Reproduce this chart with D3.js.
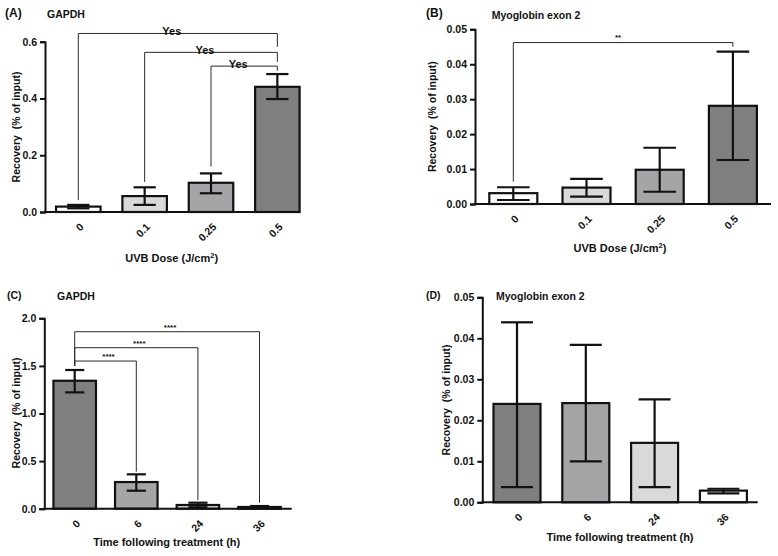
<!DOCTYPE html>
<html><head><meta charset="utf-8">
<script src="https://cdn.jsdelivr.net/npm/d3@7"></script>
<style>
body{margin:0;background:#fff;}
text{font-family:"Liberation Sans",Arial,sans-serif;font-weight:bold;fill:#111;}
</style></head>
<body>
<svg id="chart" width="778" height="556"></svg>
<script>
// ---------- data ----------
const doseCats = ["0", "0.1", "0.25", "0.5"];
const timeCats = ["0", "6", "24", "36"];

const gapdhDoseMean = [0.019, 0.056, 0.103, 0.441];
const gapdhDoseLow  = [0.013, 0.025, 0.066, 0.398];
const gapdhDoseHigh = [0.025, 0.087, 0.136, 0.486];
const gapdhDoseTicks = [0, 0.2, 0.4, 0.6];
const gapdhDoseSig = [ // [fromIdx, toIdx, level, leftEnd, rightEnd, label]
  [0, 3, 0.629, 0.042, 0.582, "Yes"],
  [1, 3, 0.5625, 0.106, 0.529, "Yes"],
  [2, 3, 0.514, 0.160, 0.498, "Yes"]
];

const myoDoseMean = [0.0031, 0.0047, 0.0098, 0.0281];
const myoDoseLow  = [0.00115, 0.0021, 0.0035, 0.0126];
const myoDoseHigh = [0.0048, 0.0072, 0.0161, 0.0436];
const myoDoseTicks = [0, 0.01, 0.02, 0.03, 0.04, 0.05];
const myoDoseSig = [
  [0, 3, 0.0462, 0.0064, 0.0450, "**"]
];

const gapdhTimeMean = [1.344, 0.280, 0.039, 0.018];
const gapdhTimeLow  = [1.222, 0.189, 0.015, 0.008];
const gapdhTimeHigh = [1.457, 0.361, 0.063, 0.028];
const gapdhTimeTicks = [0, 0.5, 1.0, 1.5, 2.0];
const gapdhTimeSig = [
  [0, 3, 1.859, 1.499, 0.063, "****"],
  [0, 2, 1.691, 1.499, 0.091, "****"],
  [0, 1, 1.551, 1.499, 0.389, "****"]
];

const myoTimeMean = [0.0240, 0.0242, 0.0145, 0.00285];
const myoTimeLow  = [0.0037, 0.0100, 0.0037, 0.0022];
const myoTimeHigh = [0.0439, 0.0384, 0.0251, 0.0033];
const myoTimeTicks = [0, 0.01, 0.02, 0.03, 0.04, 0.05];
const myoTimeSig = [];

const doseFills = ["#ffffff", "#d9d9d9", "#a5a5a8", "#7f7f7f"];
const timeFills = ["#7f7f7f", "#a5a5a8", "#d9d9d9", "#ffffff"];

// ---------- drawing ----------
const svg = d3.select("#chart");
const FONT = "'Liberation Sans',Arial,sans-serif";

function panel(o) {
  const g = svg.append("g");
  const y = d3.scaleLinear().domain([0, o.ticks[o.ticks.length - 1]]).range([o.y0, o.yTop]);
  const x = d3.scalePoint().domain(o.cats).range([o.c0, o.c0 + o.step * (o.cats.length - 1)]);

  // bars
  g.selectAll("rect.bar").data(o.mean).join("rect")
    .attr("x", (d, i) => x(o.cats[i]) - o.bw / 2)
    .attr("y", d => y(d))
    .attr("width", o.bw)
    .attr("height", d => o.y0 - y(d))
    .attr("fill", (d, i) => o.fills[i])
    .attr("stroke", "#111").attr("stroke-width", 2.2);

  // error bars
  const eb = g.selectAll("g.eb").data(o.mean).join("g");
  eb.append("line")
    .attr("x1", (d, i) => x(o.cats[i])).attr("x2", (d, i) => x(o.cats[i]))
    .attr("y1", (d, i) => y(o.low[i])).attr("y2", (d, i) => y(o.high[i]))
    .attr("stroke", "#111").attr("stroke-width", 2.2);
  ["low", "high"].forEach(k => {
    eb.append("line")
      .attr("x1", (d, i) => x(o.cats[i]) - o.bw * o.cap / 2)
      .attr("x2", (d, i) => x(o.cats[i]) + o.bw * o.cap / 2)
      .attr("y1", (d, i) => y(o[k][i])).attr("y2", (d, i) => y(o[k][i]))
      .attr("stroke", "#111").attr("stroke-width", 2.2);
  });

  // y axis
  const ya = g.append("g").attr("transform", `translate(${o.ax},0)`)
    .call(d3.axisLeft(y).tickValues(o.ticks).tickFormat(d3.format(o.fmt)).tickSize(5).tickPadding(3));
  ya.attr("font-family", FONT).attr("font-size", 10.5);
  ya.selectAll("path,line").attr("stroke", "#111").attr("stroke-width", 2);
  ya.selectAll("text").attr("fill", "#111");

  // x axis (rotated category labels)
  const xa = g.append("g").attr("transform", `translate(0,${o.y0})`)
    .call(d3.axisBottom(x).tickSize(0).tickPadding(0));
  xa.attr("font-family", FONT).attr("font-size", 10.5).attr("text-anchor", "end");
  xa.select(".domain").remove();
  xa.selectAll(".tick text")
    .attr("fill", "#111")
    .attr("x", 0).attr("y", 0).attr("dy", "0.35em")
    .attr("text-anchor", "end")
    .attr("transform", "translate(3,13) rotate(-45)");
  g.append("line").attr("x1", o.ax - 1).attr("x2", o.xEnd).attr("y1", o.y0).attr("y2", o.y0)
    .attr("stroke", "#111").attr("stroke-width", 2);

  // significance brackets
  o.sig.forEach(s => {
    const x1 = x(o.cats[s[0]]), x2 = x(o.cats[s[1]]), yl = y(s[2]);
    g.append("path")
      .attr("d", `M${x1},${y(s[3])}V${yl}H${x2}V${y(s[4])}`)
      .attr("fill", "none").attr("stroke", "#2a2a2a").attr("stroke-width", 1);
    g.append("text").attr("x", (x1 + x2) / 2 + o.sigDx).attr("y", yl + o.sigDy)
      .attr("text-anchor", "middle").style("font-size", o.sigSize + "px").text(s[5]);
  });

  // titles
  g.append("text").attr("x", o.lx).attr("y", o.ly).style("font-size", o.lSize + "px").text(o.letter);
  g.append("text").attr("x", o.tx).attr("y", o.ty).style("font-size", "10.5px").text(o.title);
  g.append("text").attr("transform", `translate(${o.yLx},${o.yLy}) rotate(-90)`)
    .attr("text-anchor", "middle").attr("dy", "0.35em").style("font-size", "10.5px")
    .style("white-space", "pre").text("Recovery  (% of input)");
  const xt = g.append("text").attr("x", o.xLx).attr("y", o.xLy).attr("text-anchor", "middle")
    .attr("dy", "0.35em").style("font-size", "11px");
  if (o.dose) {
    xt.append("tspan").text("UVB Dose (J/cm");
    xt.append("tspan").attr("dy", "-4").style("font-size", "7.5px").text("2");
    xt.append("tspan").attr("dy", "4").text(")");
  } else {
    xt.text("Time following treatment (h)");
  }
}

panel({cats: doseCats, mean: gapdhDoseMean, low: gapdhDoseLow, high: gapdhDoseHigh, ticks: gapdhDoseTicks,
  sig: gapdhDoseSig, fills: doseFills, fmt: ".1f", dose: true,
  ax: 45, y0: 212, yTop: 41.7, c0: 78.3, step: 66.35, bw: 44.5, cap: 0.5, xEnd: 300,
  sigDx: -6, sigDy: 2, sigSize: 11,
  letter: "(A)", lx: 5, ly: 17, lSize: 12, title: "GAPDH", tx: 47, ty: 18,
  yLx: 16, yLy: 127, xLx: 171.7, xLy: 258});

panel({cats: doseCats, mean: myoDoseMean, low: myoDoseLow, high: myoDoseHigh, ticks: myoDoseTicks,
  sig: myoDoseSig, fills: doseFills, fmt: ".2f", dose: true,
  ax: 475, y0: 204, yTop: 29.3, c0: 513.3, step: 73.2, bw: 48, cap: 0.68, xEnd: 771,
  sigDx: -5, sigDy: -3, sigSize: 8,
  letter: "(B)", lx: 426, ly: 17, lSize: 12, title: "Myoglobin exon 2", tx: 491.7, ty: 19,
  yLx: 432.7, yLy: 116.7, xLx: 620, xLy: 248});

panel({cats: timeCats, mean: gapdhTimeMean, low: gapdhTimeLow, high: gapdhTimeHigh, ticks: gapdhTimeTicks,
  sig: gapdhTimeSig, fills: timeFills, fmt: ".1f", dose: false,
  ax: 44.3, y0: 508.7, yTop: 318.3, c0: 74.7, step: 61.6, bw: 42.5, cap: 0.45, xEnd: 291.7,
  sigDx: 3, sigDy: -2, sigSize: 8,
  letter: "(C)", lx: 7, ly: 299, lSize: 10.5, title: "GAPDH", tx: 57, ty: 300,
  yLx: 16, yLy: 413, xLx: 166.7, xLy: 541.7});

panel({cats: timeCats, mean: myoTimeMean, low: myoTimeLow, high: myoTimeHigh, ticks: myoTimeTicks,
  sig: myoTimeSig, fills: timeFills, fmt: ".2f", dose: false,
  ax: 482.3, y0: 502.3, yTop: 297.3, c0: 517, step: 68.8, bw: 47, cap: 0.68, xEnd: 757.7,
  sigDx: 0, sigDy: -3, sigSize: 8,
  letter: "(D)", lx: 426, ly: 299, lSize: 10.5, title: "Myoglobin exon 2", tx: 496, ty: 300,
  yLx: 446, yLy: 400, xLx: 620, xLy: 536.7});
</script>
</body></html>
